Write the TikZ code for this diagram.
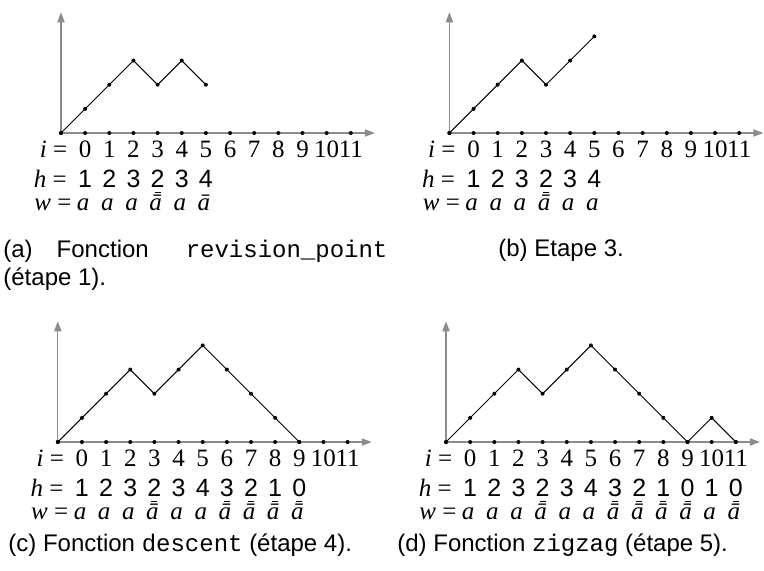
\documentclass[tikz,border=0pt]{standalone}
\usepackage{fontspec}
\setmainfont{Liberation Serif}
\newfontfamily\capfont{Liberation Sans}
\newfontfamily\capmonofont{Liberation Mono}
\newfontfamily\hfont{Liberation Sans}
\usetikzlibrary{arrows.meta, positioning}

\newcommand{\fn}[1]{{\capmonofont #1}}
\newcommand{\hu}[1]{\ooalign{#1\cr\hidewidth\rule[-2.6pt]{3pt}{0.5pt}\hidewidth\cr}}

\begin{document}
\begin{tikzpicture}[
    x=12.075pt, y=12.075pt,
    axis/.style={black!45, line width=0.6pt, -{Triangle[length=5pt, width=3.6pt]}},
    walk/.style={black, line width=0.5pt},
    irow/.style={font=\fontsize{12.5}{14}\selectfont, inner sep=0pt, anchor=base},
    hrow/.style={font=\fontsize{12.5}{14}\selectfont\hfont, inner sep=0pt, anchor=base},
    wrow/.style={font=\fontsize{12.5}{14}\selectfont\itshape, inner sep=0pt, anchor=base},
    rowlab/.style={font=\fontsize{12.5}{14}\selectfont, inner sep=0pt, anchor=base east},
    captext/.style={font=\fontsize{12}{14}\selectfont\capfont, inner sep=0pt},
]
\useasboundingbox (0pt,0pt) rectangle (382pt,-285pt);

% ── (a) revision_point ──
\begin{scope}[shift={(30.5pt,-66.5pt)}]
    \draw[axis] (0,0) -- (0,5);
    \draw[axis] (0,0) -- (13,0);
    \foreach \k in {0,...,12} \fill (\k,0) circle (1pt);
    \foreach \x/\y [count=\n from 0] in {0/0,1/1,2/2,3/3,4/2,5/3,6/2}
        \coordinate (pa\n) at (\x,\y);
    \draw[walk] (pa0) \foreach \n in {1,...,6} { -- (pa\n) };
    \foreach \n in {0,...,6} \fill (pa\n) circle (1pt);

    \node[rowlab] (ila) at (0.27,-1.03) {\textit{i} =};
    \foreach \k in {0,...,11} \node[irow] (ia\k) at (\k+1,-1.03) {\k};
    \node[rowlab] (hla) at (0.25,-2.26) {\textit{h} =};
    \foreach \v [count=\k] in {1,2,3,\hu{2},3,4}
        \node[hrow] (ha\k) at (\k,-2.26) {\v};
    \node[rowlab] (wla) at (0.45,-3.2) {\textit{w} =};
    \foreach \v [count=\k] in {a,a,a,ā,a,ā}
        \node[wrow] (wa\k) at (\k-0.08,-3.2) {\v};
\end{scope}

% ── (b) step 3 ──
\begin{scope}[shift={(224.7pt,-66.5pt)}]
    \draw[axis] (0,0) -- (0,5);
    \draw[axis] (0,0) -- (13,0);
    \foreach \k in {0,...,12} \fill (\k,0) circle (1pt);
    \foreach \x/\y [count=\n from 0] in {0/0,1/1,2/2,3/3,4/2,5/3,6/4}
        \coordinate (pb\n) at (\x,\y);
    \draw[walk] (pb0) \foreach \n in {1,...,6} { -- (pb\n) };
    \foreach \n in {0,...,6} \fill (pb\n) circle (1pt);

    \node[rowlab] (ilb) at (0.27,-1.03) {\textit{i} =};
    \foreach \k in {0,...,11} \node[irow] (ib\k) at (\k+1,-1.03) {\k};
    \node[rowlab] (hlb) at (0.25,-2.26) {\textit{h} =};
    \foreach \v [count=\k] in {1,2,3,\hu{2},3,4}
        \node[hrow] (hb\k) at (\k,-2.26) {\v};
    \node[rowlab] (wlb) at (0.45,-3.2) {\textit{w} =};
    \foreach \v [count=\k] in {a,a,a,ā,a,a}
        \node[wrow] (wb\k) at (\k-0.08,-3.2) {\v};
\end{scope}

% ── (c) descent ──
\begin{scope}[shift={(28.9pt,-221pt)}]
    \draw[axis] (0,0) -- (0,5);
    \draw[axis] (0,0) -- (13,0);
    \foreach \k in {0,...,12} \fill (\k,0) circle (1pt);
    \foreach \x/\y [count=\n from 0] in {0/0,1/1,2/2,3/3,4/2,5/3,6/4,7/3,8/2,9/1,10/0}
        \coordinate (pc\n) at (\x,\y);
    \draw[walk] (pc0) \foreach \n in {1,...,10} { -- (pc\n) };
    \foreach \n in {0,...,10} \fill (pc\n) circle (1pt);

    \node[rowlab] (ilc) at (0.27,-1.03) {\textit{i} =};
    \foreach \k in {0,...,11} \node[irow] (ic\k) at (\k+1,-1.03) {\k};
    \node[rowlab] (hlc) at (0.25,-2.26) {\textit{h} =};
    \foreach \v [count=\k] in {1,2,3,\hu{2},3,4,\hu{3},\hu{2},\hu{1},\hu{0}}
        \node[hrow] (hc\k) at (\k,-2.26) {\v};
    \node[rowlab] (wlc) at (0.45,-3.2) {\textit{w} =};
    \foreach \v [count=\k] in {a,a,a,ā,a,a,ā,ā,ā,ā}
        \node[wrow] (wc\k) at (\k-0.08,-3.2) {\v};
\end{scope}

% ── (d) zigzag ──
\begin{scope}[shift={(223pt,-221pt)}]
    \draw[axis] (0,0) -- (0,5);
    \draw[axis] (0,0) -- (13,0);
    \foreach \k in {0,...,12} \fill (\k,0) circle (1pt);
    \foreach \x/\y [count=\n from 0] in {0/0,1/1,2/2,3/3,4/2,5/3,6/4,7/3,8/2,9/1,10/0,11/1,12/0}
        \coordinate (pd\n) at (\x,\y);
    \draw[walk] (pd0) \foreach \n in {1,...,12} { -- (pd\n) };
    \foreach \n in {0,...,12} \fill (pd\n) circle (1pt);

    \node[rowlab] (ild) at (0.27,-1.03) {\textit{i} =};
    \foreach \k in {0,...,11} \node[irow] (id\k) at (\k+1,-1.03) {\k};
    \node[rowlab] (hld) at (0.25,-2.26) {\textit{h} =};
    \foreach \v [count=\k] in {1,2,3,\hu{2},3,4,\hu{3},\hu{2},\hu{1},\hu{0},1,\hu{0}}
        \node[hrow] (hd\k) at (\k,-2.26) {\v};
    \node[rowlab] (wld) at (0.45,-3.2) {\textit{w} =};
    \foreach \v [count=\k] in {a,a,a,ā,a,a,ā,ā,ā,ā,a,ā}
        \node[wrow] (wd\k) at (\k-0.08,-3.2) {\v};
\end{scope}

% ── captions ──
\node[captext, text width=192pt, align=justify, anchor=north west] (capa) at (1.5pt,-119.7pt)
    {(a)\hspace{12pt}Fonction \fn{revision\_point}\linebreak (étape 1).};
\node[captext, anchor=base west] (capb) at (249pt,-128pt) {(b) Etape 3.};
\node[captext, anchor=base west] (capc) at (4pt,-275.5pt)
    {(c) Fonction \fn{descent} (étape 4).};
\node[captext, anchor=base west] (capd) at (198.5pt,-275.5pt)
    {(d) Fonction \fn{zigzag} (étape 5).};

\end{tikzpicture}
\end{document}
